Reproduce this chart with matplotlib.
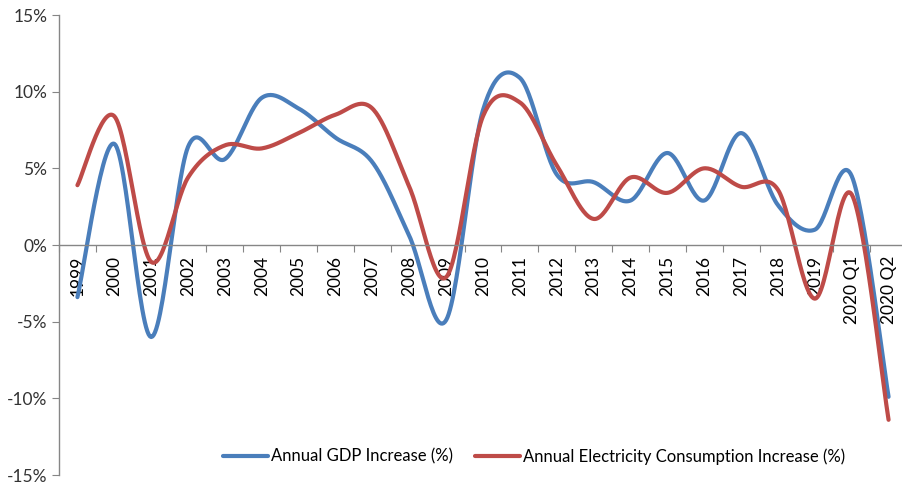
import numpy as np
import matplotlib
matplotlib.use('Agg')
import matplotlib.pyplot as plt

plt.rcParams['font.family'] = ['Lato', 'DejaVu Sans']

categories = ['1999', '2000', '2001', '2002', '2003', '2004', '2005', '2006', '2007',
              '2008', '2009', '2010', '2011', '2012', '2013', '2014', '2015', '2016',
              '2017', '2018', '2019', '2020 Q1', '2020 Q2']
gdp = [-3.4, 6.6, -6.0, 6.4, 5.6, 9.6, 8.9, 7.0, 5.4, 0.6, -4.9, 8.8, 10.9,
       4.6, 4.1, 2.9, 6.0, 2.9, 7.3, 2.6, 1.0, 4.5, -9.9]
electricity = [3.9, 8.4, -1.1, 4.4, 6.5, 6.3, 7.3, 8.5, 8.9, 3.8, -2.1, 8.4, 9.3,
               5.2, 1.7, 4.4, 3.4, 5.0, 3.8, 3.6, -3.5, 3.3, -11.4]

blue = '#4A7EBB'
red = '#BE4B48'
grey = '#868686'


def smooth(y, n=30):
    # Excel-like smoothed line: Catmull-Rom spline through the points
    y = np.asarray(y, dtype=float)
    x = np.arange(len(y), dtype=float)
    xs, ys = [], []
    for i in range(len(y) - 1):
        p0 = np.array([x[max(i - 1, 0)], y[max(i - 1, 0)]])
        p1 = np.array([x[i], y[i]])
        p2 = np.array([x[i + 1], y[i + 1]])
        p3 = np.array([x[min(i + 2, len(y) - 1)], y[min(i + 2, len(y) - 1)]])
        c1 = p1 + (p2 - p0) / 6.0
        c2 = p2 - (p3 - p1) / 6.0
        t = np.linspace(0, 1, n)[:, None]
        pts = ((1 - t) ** 3) * p1 + 3 * ((1 - t) ** 2) * t * c1 + 3 * (1 - t) * t ** 2 * c2 + t ** 3 * p2
        xs.extend(pts[:, 0])
        ys.extend(pts[:, 1])
    return np.array(xs), np.array(ys)


fig = plt.figure(figsize=(9.03, 4.82), dpi=100)
ax = fig.add_axes([59 / 903, 7 / 482, 848 / 903, 460 / 482])

gx, gy = smooth(gdp)
ex, ey = smooth(electricity)
ax.plot(gx, gy, color=blue, lw=3, solid_capstyle='round', label='Annual GDP Increase (%)')
ax.plot(ex, ey, color=red, lw=3, solid_capstyle='round', label='Annual Electricity Consumption Increase (%)')

ax.set_xlim(-0.5, len(categories) - 0.5)
ax.set_ylim(-15, 15)

ax.spines['top'].set_visible(False)
ax.spines['right'].set_visible(False)
ax.spines['bottom'].set_position(('data', 0))
for s in ['left', 'bottom']:
    ax.spines[s].set_color(grey)
    ax.spines[s].set_linewidth(1)

ax.set_xticks(np.arange(-0.5, len(categories), 1.0))
ax.set_xticklabels([])
ax.set_xticks(np.arange(len(categories)), minor=True)
ax.set_xticklabels(categories, minor=True, rotation=90, fontsize=12.5)
ax.tick_params(axis='x', which='major', direction='out', length=5, color=grey)
ax.tick_params(axis='x', which='minor', length=0, pad=8)

yt = [-15, -10, -5, 0, 5, 10, 15]
ax.set_yticks(yt)
ax.set_yticklabels(['%d%%' % v for v in yt], fontsize=12.5, color='#333333')
ax.tick_params(axis='y', direction='out', length=5, color=grey)

ax.legend(loc='center', bbox_to_anchor=(0.56, 0.04), ncol=2, frameon=False,
          fontsize=12, handlelength=2.7, handletextpad=0.2, columnspacing=1.3)

fig.savefig('out.png', dpi=100)
